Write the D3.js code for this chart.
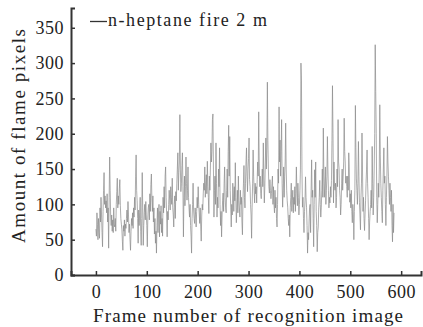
<!DOCTYPE html>
<html>
<head>
<meta charset="utf-8">
<script src="https://cdn.jsdelivr.net/npm/d3@7"></script>
</head>
<body style="margin:0">
<svg id="vis"></svg>
<script>
const WIDTH = 423;
const HEIGHT = 327;
const SERIF = '"Liberation Serif"';

// pixel counts per frame (frame = index)
const pixels = [
  65, 55, 88, 72, 50, 80, 60, 52, 95, 75,
  110, 85, 60, 40, 90, 120, 145, 100, 112, 95,
  105, 88, 115, 75, 95, 38, 110, 167, 120, 82,
  70, 85, 62, 78, 60, 95, 72, 68, 80, 62,
  100, 118, 137, 95, 112, 100, 122, 135, 98, 80,
  72, 65, 48, 35, 70, 62, 78, 55, 72, 66,
  80, 92, 75, 104, 85, 60, 72, 50, 35, 62,
  80, 70, 88, 66, 95, 82, 110, 92, 140, 170,
  120, 105, 80, 45, 92, 70, 88, 110, 62, 42,
  80, 145, 95, 42, 70, 88, 100, 78, 104, 85,
  70, 40, 82, 95, 100, 78, 115, 90, 128, 143,
  108, 90, 112, 75, 95, 58, 80, 45, 62, 31,
  70, 95, 60, 85, 100, 54, 90, 72, 98, 60,
  80, 55, 110, 88, 125, 95, 140, 153, 110, 85,
  54, 90, 78, 100, 120, 106, 92, 125, 110, 100,
  137, 96, 85, 68, 100, 112, 80, 118, 105, 130,
  150, 173, 120, 145, 160, 227, 150, 118, 130, 155,
  173, 125, 54, 110, 140, 98, 125, 167, 130, 106,
  120, 153, 110, 95, 82, 100, 70, 55, 31, 80,
  100, 130, 92, 80, 73, 95, 85, 68, 90, 110,
  95, 125, 100, 88, 73, 95, 68, 48, 85, 100,
  92, 116, 130, 120, 153, 110, 130, 142, 115, 161,
  125, 110, 87, 140, 120, 150, 187, 160, 175, 220,
  228, 150, 82, 120, 140, 100, 187, 130, 82, 110,
  95, 150, 125, 180, 100, 70, 90, 54, 85, 105,
  116, 90, 130, 153, 110, 95, 88, 120, 150, 110,
  175, 212, 140, 196, 120, 95, 68, 100, 85, 130,
  116, 90, 125, 105, 159, 110, 74, 95, 120, 88,
  140, 105, 95, 82, 120, 100, 110, 75, 57, 105,
  130, 155, 110, 95, 130, 160, 180, 140, 118, 150,
  165, 194, 135, 125, 100, 85, 52, 95, 130, 177,
  140, 120, 102, 130, 115, 125, 102, 135, 160, 140,
  231, 160, 125, 140, 115, 108, 130, 150, 125, 187,
  140, 102, 125, 160, 194, 150, 180, 273, 190, 150,
  125, 116, 135, 120, 108, 115, 130, 140, 100, 125,
  100, 88, 120, 95, 110, 80, 68, 100, 150, 130,
  238, 160, 191, 140, 175, 220, 130, 96, 120, 153,
  110, 140, 160, 215, 150, 120, 105, 96, 80, 70,
  85, 54, 95, 110, 130, 90, 105, 120, 88, 110,
  100, 125, 90, 115, 153, 120, 98, 130, 110, 85,
  100, 120, 150, 300, 276, 150, 96, 110, 80, 60,
  90, 105, 139, 110, 96, 70, 31, 60, 50, 75,
  95, 100, 60, 120, 163, 110, 120, 80, 40, 100,
  149, 110, 160, 90, 70, 33, 60, 68, 95, 110,
  134, 100, 82, 95, 120, 150, 110, 208, 140, 110,
  130, 153, 100, 120, 140, 196, 150, 120, 95, 110,
  102, 125, 110, 134, 190, 268, 200, 102, 160, 125,
  120, 130, 95, 110, 150, 125, 220, 160, 150, 120,
  110, 85, 100, 130, 150, 120, 140, 160, 222, 175,
  160, 130, 140, 125, 110, 140, 120, 173, 150, 103,
  115, 95, 120, 90, 74, 100, 85, 50, 90, 120,
  240, 180, 136, 120, 100, 130, 189, 140, 103, 85,
  64, 110, 130, 201, 150, 90, 110, 80, 63, 85,
  105, 130, 150, 177, 130, 110, 80, 50, 75, 90,
  100, 120, 95, 182, 130, 85, 110, 150, 200, 326,
  260, 200, 110, 74, 100, 130, 110, 150, 241, 170,
  130, 110, 90, 74, 120, 150, 180, 130, 140, 100,
  70, 110, 140, 196, 160, 140, 120, 100, 130, 110,
  90, 120, 70, 47, 100, 60, 88
];

const xTicks = [0, 100, 200, 300, 400, 500, 600];
const yTicks = [0, 50, 100, 150, 200, 250, 300, 350];
const legendLabel = "n-heptane fire  2 m";
const xTitle = "Frame number of recognition image";
const yTitle = "Amount of flame pixels";

const svg = d3.select("#vis")
    .attr("width", WIDTH)
    .attr("height", HEIGHT);

// escalas
const x = d3.scaleLinear().domain([-49, 639]).range([71, 421]);
const y = d3.scaleLinear().domain([0, 378]).range([275, 8]);

// linea de datos
const line = d3.line()
    .x((d, i) => x(i))
    .y(d => y(d));

svg.append("path")
    .datum(pixels)
    .attr("fill", "none")
    .attr("stroke", "#8a8a8a")
    .attr("stroke-width", 0.7)
    .attr("d", line);

// eje X (ticks hacia adentro)
const ejeX = svg.append("g")
    .attr("transform", `translate(0, ${y(0)})`)
    .call(d3.axisBottom(x).tickValues(xTicks).tickSize(-4).tickPadding(8));

// eje Y
const ejeY = svg.append("g")
    .attr("transform", `translate(${x(-49)}, 0)`)
    .call(d3.axisLeft(y).tickValues(yTicks).tickSize(-4).tickPadding(6));

[ejeX, ejeY].forEach(g => {
    g.attr("font-family", null).attr("font-size", null);
    g.select(".domain").attr("stroke", "#333").attr("stroke-width", 2);
    g.selectAll(".tick line").attr("stroke", "#333").attr("stroke-width", 1.5);
    g.selectAll("text")
        .style("font-family", SERIF)
        .style("font-size", "18px")
        .attr("letter-spacing", 0.5)
        .attr("fill", "#222");
});

ejeX.selectAll(".tick text").attr("dy", "0.85em");
ejeY.selectAll(".tick text").attr("dx", "-1");

// titulos
svg.append("text")
    .style("font-family", SERIF)
    .style("font-size", "19px")
    .attr("fill", "#222")
    .attr("x", 248)
    .attr("y", 322)
    .attr("text-anchor", "middle")
    .attr("textLength", 310)
    .attr("lengthAdjust", "spacing")
    .text(xTitle);

svg.append("text")
    .style("font-family", SERIF)
    .style("font-size", "19px")
    .attr("fill", "#222")
    .attr("transform", "translate(25, 136) rotate(-90)")
    .attr("text-anchor", "middle")
    .attr("textLength", 214)
    .attr("lengthAdjust", "spacing")
    .text(yTitle);

// leyenda
svg.append("line")
    .attr("x1", 90).attr("x2", 107)
    .attr("y1", 21.5).attr("y2", 21.5)
    .attr("stroke", "#333")
    .attr("stroke-width", 1.3);

svg.append("text")
    .style("font-family", SERIF)
    .style("font-size", "18px")
    .attr("fill", "#222")
    .attr("x", 108)
    .attr("y", 26)
    .attr("textLength", 159)
    .attr("lengthAdjust", "spacing")
    .text(legendLabel);
</script>
</body>
</html>
